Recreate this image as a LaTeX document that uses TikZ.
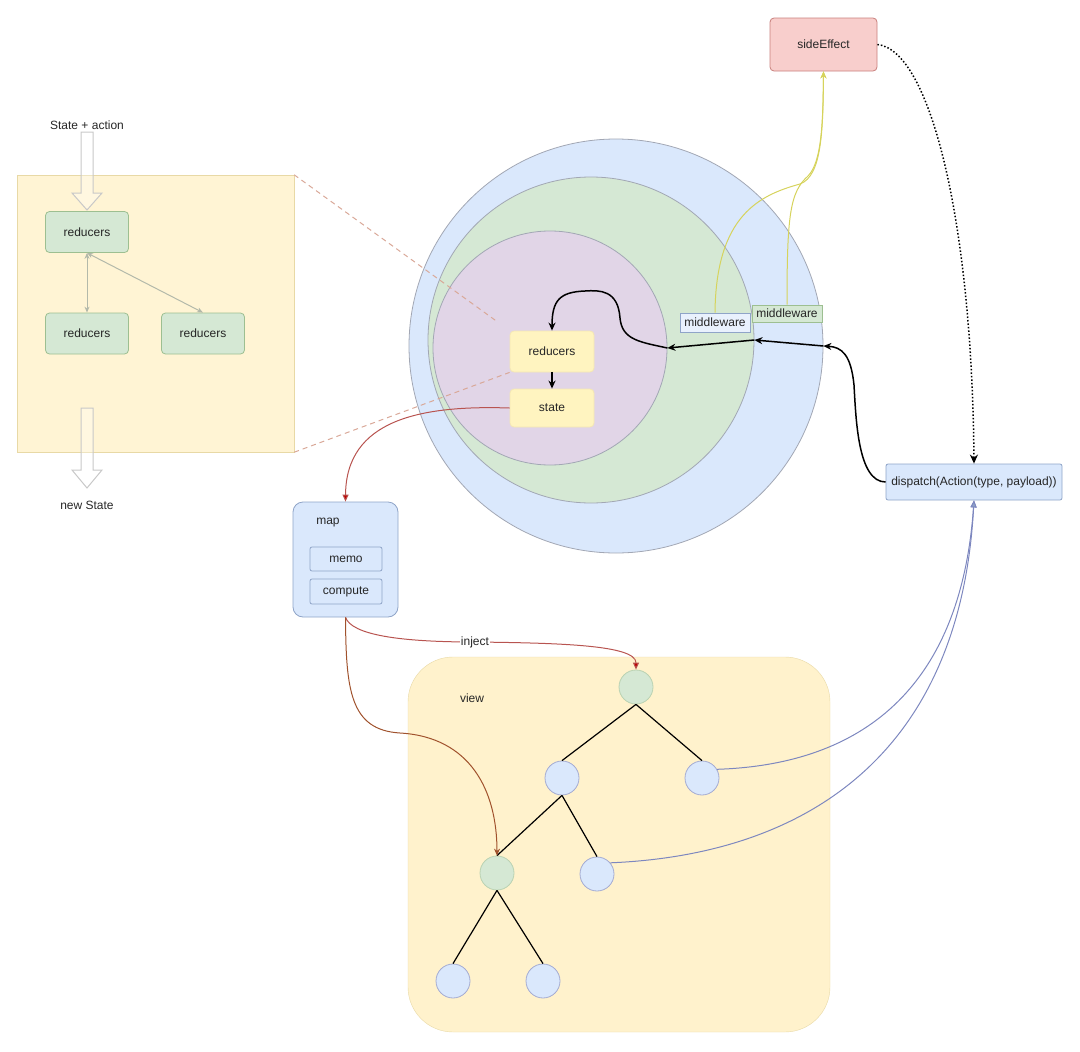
\documentclass[tikz,border=0pt]{standalone}
\usepackage{fontspec}
\setmainfont{Liberation Sans}
\usetikzlibrary{arrows.meta,shapes.geometric}
\definecolor{bfill}{HTML}{DAE8FC}
\definecolor{bline}{HTML}{8FA4C8}
\definecolor{gfill}{HTML}{D5E8D4}
\definecolor{gline}{HTML}{9DBF91}
\definecolor{pfill}{HTML}{E1D5E7}
\definecolor{yfill}{HTML}{FFF2CC}
\definecolor{yline}{HTML}{E8D9A6}
\definecolor{ybox}{HTML}{FFF4C0}
\definecolor{yboxl}{HTML}{F4E7B4}
\definecolor{rfill}{HTML}{F8CECC}
\definecolor{rline}{HTML}{C87F7C}
\definecolor{circline}{HTML}{A2A7B4}
\definecolor{redl}{HTML}{B85450}
\definecolor{brownl}{HTML}{A0522D}
\definecolor{purl}{HTML}{7D87BF}
\definecolor{ylw}{HTML}{D6D35C}
\definecolor{dashc}{HTML}{D9A898}
\definecolor{lpan}{HTML}{B3B9AA}
\definecolor{hollow}{HTML}{C8C8C8}
\begin{document}
\begin{tikzpicture}[x=1pt,y=-1pt,
  every node/.style={font=\fontsize{12}{14}\selectfont, inner sep=0pt, text=black!85},
  box/.style={draw, rounded corners=4pt, line width=0.8pt},
  gbox/.style={box, fill=gfill, draw=gline},
  bbox/.style={box, fill=bfill, draw=bline},
  ybx/.style={box, fill=ybox, draw=yboxl},
  ring/.style={circle, draw=circline, line width=0.8pt},
  tnode/.style={circle, minimum size=34pt, line width=0.8pt},
  tg/.style={tnode, fill=gfill, draw=gline!70},
  tb/.style={tnode, fill=bfill, draw=purl!70},
  blk/.style={draw=black, line width=1.5pt, -{Stealth[length=8pt,width=7pt]}},
  edge/.style={draw=black, line width=1.2pt},
  redc/.style={draw=redl, line width=1pt, -{Triangle[length=7pt,width=6pt,fill=red!75!black]}},
  brownc/.style={draw=brownl, line width=1pt, -{Stealth[length=7pt,width=6pt]}},
  purc/.style={draw=purl, line width=1pt, -{Triangle[length=7pt,width=6pt,fill=bline]}},
  ylwc/.style={draw=ylw, line width=1pt, -{Stealth[length=7pt,width=6pt]}},
  dashln/.style={draw=dashc, line width=1pt, dash pattern=on 5pt off 4pt},
  dotc/.style={draw=black, line width=1.5pt, dotted, -{Stealth[length=9pt,width=8pt,sep=0pt]}},
  lpanc/.style={draw=lpan, line width=1pt, {Stealth[length=6pt,width=5pt]}-{Stealth[length=6pt,width=5pt]}},
  hol/.style={draw=hollow, line width=1pt, fill=white, fill opacity=0.3}
]
\useasboundingbox (0,0) rectangle (1080,1052);

% left panel
\node[fill=yfill!85, draw=yline, minimum width=277pt, minimum height=277pt] (panel) at (155.5,313.5) {};
\node (sa) at (87,125) {State + action};
\node (ns) at (87,505) {new State};
\draw[hol] (81,132) -- (93,132) -- (93,193) -- (102,193) -- (87,210) -- (72,193) -- (81,193) -- cycle;
\draw[hol] (81,408) -- (93,408) -- (93,470) -- (102,470) -- (87,488) -- (72,470) -- (81,470) -- cycle;
\node[gbox, minimum width=83pt, minimum height=41pt] (r1) at (87,232) {reducers};
\node[gbox, minimum width=83pt, minimum height=41pt] (r2) at (87,333.5) {reducers};
\node[gbox, minimum width=83pt, minimum height=41pt] (r3) at (203,333.5) {reducers};
\draw[lpanc] (r1.south) -- (r2.north);
\draw[lpanc] (r1.south) -- (r3.north);

% circles
\node[ring, fill=bfill, minimum size=414pt] (outer) at (616,346) {};
\node[ring, fill=gfill, minimum size=326pt] (green) at (591,340) {};
\node[ring, fill=pfill, minimum size=234pt] (purple) at (550,348) {};

\node[ybx, minimum width=84pt, minimum height=41pt] (rd) at (552,351.5) {reducers};
\node[ybx, minimum width=84pt, minimum height=38pt] (st) at (552,408) {state};

\draw[dashln, shorten >=14pt] (panel.north east) -- (rd.north west);
\draw[dashln] (panel.south east) -- (rd.south west);

\draw[blk] (rd.south) -- (st.north);
\draw[blk] (purple.east) .. controls (640,342) and (622,340) .. (620,318)
  .. controls (618,290) and (600,290) .. (585,291)
  .. controls (560,292) and (552,300) .. (rd.north);

% middleware
\node[box, rounded corners=0pt, fill=bfill!60, draw=bline, minimum width=70pt, minimum height=19pt] (mw1) at (715,322.5) {middleware};
\node[box, rounded corners=0pt, fill=gfill, draw=gline, minimum width=70pt, minimum height=17pt] (mw2) at (787,313.5) {middleware};

% side effect and dispatch
\node[box, fill=rfill, draw=rline, minimum width=107pt, minimum height=53pt] (side) at (823.5,44.5) {sideEffect};
\node[bbox, rounded corners=2pt, minimum width=176pt, minimum height=36pt] (disp) at (974,482) {dispatch(Action(type, payload))};

\draw[ylwc] (mw1.north) .. controls (716,215) and (760,195) .. (800,184)
  .. controls (822,176) and (823,130) .. (side.south);
\draw[ylwc] (mw2.north) .. controls (787,215) and (790,192) .. (808,176)
  .. controls (822,162) and (823,120) .. (side.south);

\draw[blk] (disp.west) .. controls (858,482) and (856,420) .. (854,385)
  .. controls (851,355) and (842,347) .. (outer.east);
\draw[blk] (outer.east) -- (green.east);
\draw[blk] (green.east) -- (purple.east);

\draw[dotc] (side.east) .. controls (930,50) and (972,220) .. (disp.north);

% map
\node[bbox, rounded corners=10pt, minimum width=105pt, minimum height=115pt] (map) at (345.5,559.5) {};
\node (maplbl) at (328,523) {map};
\node[bbox, rounded corners=2pt, minimum width=72pt, minimum height=24pt] (memo) at (346,559) {memo};
\node[bbox, rounded corners=2pt, minimum width=72pt, minimum height=25pt] (comp) at (346,591.5) {compute};

\draw[redc] (st.west) .. controls (420,405) and (346,420) .. (map.north);

% view
\node[fill=yfill, draw=yline, rounded corners=45pt, minimum width=422pt, minimum height=375pt] (view) at (619,844.5) {};
\node (viewlbl) at (472,698) {view};

\node[tg] (t1) at (636,687) {};
\node[tb] (t2) at (562,778) {};
\node[tb] (t3) at (702,778) {};
\node[tg] (t4) at (497,873) {};
\node[tb] (t5) at (597,874) {};
\node[tb] (t6) at (453,981) {};
\node[tb] (t7) at (543,981) {};

\draw[edge] (t1.south) -- (t2.north);
\draw[edge] (t1.south) -- (t3.north);
\draw[edge] (t2.south) -- (t4.north);
\draw[edge] (t2.south) -- (t5.north);
\draw[edge] (t4.south) -- (t6.north);
\draw[edge] (t4.south) -- (t7.north);

\draw[redc] (map.south) .. controls (352,635) and (400,642) .. (475,642)
  node[fill=white, inner sep=1pt] (inj) {inject}
  .. controls (560,643) and (636,645) .. (t1.north);
\draw[brownc] (map.south) .. controls (346,690) and (350,730) .. (400,733)
  .. controls (470,737) and (497,790) .. (t4.north);

\draw[purc] (t3.30) .. controls (850,765) and (960,700) .. (disp.south);
\draw[purc] (t5.40) .. controls (800,855) and (960,760) .. (disp.south);
\end{tikzpicture}
\end{document}
